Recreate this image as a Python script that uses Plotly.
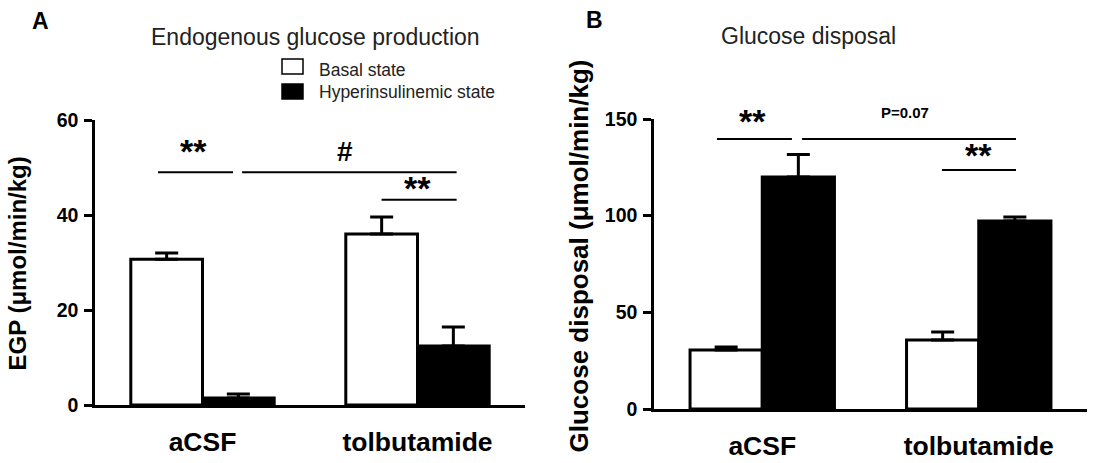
import plotly.graph_objects as go

# ---------------- data ----------------
categories = ["aCSF", "tolbutamide"]
series_names = ["Basal state", "Hyperinsulinemic state"]

egp_basal = [30.7, 36.0]
egp_basal_err = [1.3, 3.6]
egp_hyper = [1.5, 12.4]
egp_hyper_err = [0.8, 4.0]

gd_basal = [30.5, 35.7]
gd_basal_err = [1.6, 4.1]
gd_hyper = [120.0, 97.2]
gd_hyper_err = [11.7, 2.1]

egp_ticks = [0, 20, 40, 60]
gd_ticks = [0, 50, 100, 150]
egp_range = [0, 60]
gd_range = [0, 150]

# significance brackets: (x0, x1, y) in category units / data units
egp_brackets = [(-0.207, 0.142, 49.0), (0.184, 1.182, 49.0), (0.833, 1.182, 43.2)]
egp_labels = [(-0.042, 53.4, "**", 34), (0.665, 53.4, "#", 28), (1.0, 45.7, "**", 34)]
gd_brackets = [(-0.209, 0.137, 139.7), (0.184, 1.172, 139.7), (0.830, 1.172, 123.6)]
gd_labels = [(-0.047, 149.1, "**", 34), (0.659, 153.3, "P=0.07", 15), (1.001, 131.4, "**", 34)]

FONT = "Arial, Liberation Sans, sans-serif"
W, H = 1098, 463

fig = go.Figure()

def add_bars(vals, errs, name, fill, xa, ya):
    fig.add_trace(go.Bar(
        x=categories, y=vals, name=name, xaxis=xa, yaxis=ya,
        marker=dict(color=fill, line=dict(color="black", width=3)),
        error_y=dict(type="data", array=errs, arrayminus=[0] * len(errs), symmetric=False,
                     color="black", thickness=3, width=11.5),
        showlegend=False, offsetgroup=name,
    ))

add_bars(egp_basal, egp_basal_err, series_names[0], "white", "x", "y")
add_bars(egp_hyper, egp_hyper_err, series_names[1], "black", "x", "y")
add_bars(gd_basal, gd_basal_err, series_names[0], "white", "x2", "y2")
add_bars(gd_hyper, gd_hyper_err, series_names[1], "black", "x2", "y2")

shapes = []
annotations = []

def add_sig(brackets, labels, xa, ya, yrange):
    for (x0, x1, y) in brackets:
        shapes.append(dict(type="line", xref=xa, yref=ya, x0=x0, x1=x1, y0=y, y1=y,
                           line=dict(color="black", width=2)))
    for (x, y, t, s) in labels:
        # axis-domain reference so labels above the axis range stay visible
        yd = (y - yrange[0]) / (yrange[1] - yrange[0])
        annotations.append(dict(xref=xa, yref=ya + " domain", x=x, y=yd, text=f"<b>{t}</b>",
                                showarrow=False, xanchor="center", yanchor="middle",
                                font=dict(size=s, color="black", family=FONT)))

add_sig(egp_brackets, egp_labels, "x", "y", egp_range)
add_sig(gd_brackets, gd_labels, "x2", "y2", gd_range)

def px_x(px):
    return px / W

def px_y(py):
    return 1 - py / H

for (px, py, t, s, bold, ang) in [
    (40, 21.5, "A", 23, True, 0),
    (594.5, 20, "B", 23, True, 0),
    (315, 37, "Endogenous glucose production", 23, False, 0),
    (808.5, 36, "Glucose disposal", 23, False, 0),
    (16.5, 264, "EGP (μmol/min/kg)", 24, True, -90),
    (578, 256.5, "Glucose disposal (μmol/min/kg)", 26, True, -90),
]:
    annotations.append(dict(xref="paper", yref="paper", x=px_x(px), y=px_y(py),
                            text=f"<b>{t}</b>" if bold else t,
                            showarrow=False, textangle=ang, xanchor="center", yanchor="middle",
                            font=dict(size=s, color="black" if bold else "#222", family=FONT)))

# legend (drawn as keys + labels)
legend_fill = ["white", "black"]
legend_box_y = [(59, 74), (84, 99)]
legend_text_y = [70, 91.5]
for name, fill, (y0, y1), ty in zip(series_names, legend_fill, legend_box_y, legend_text_y):
    shapes.append(dict(type="rect", xref="paper", yref="paper",
                       x0=px_x(282), x1=px_x(303), y0=px_y(y1), y1=px_y(y0),
                       fillcolor=fill, line=dict(color="black", width=1.5)))
    annotations.append(dict(xref="paper", yref="paper", x=px_x(317), y=px_y(ty), text=name,
                            showarrow=False, xanchor="left", yanchor="middle",
                            font=dict(size=17.5, color="#222", family=FONT)))

xaxis_common = dict(type="category", range=[-0.5, 1.5], showline=True, linecolor="black", linewidth=2.5,
                    ticks="", showgrid=False, zeroline=False, ticklabelstandoff=11, automargin=False,
                    tickfont=dict(size=26.5, color="black", family=FONT, weight="bold"))
yaxis_common = dict(showline=True, linecolor="black", linewidth=2.5, ticks="outside", ticklen=8,
                    tickwidth=2.5, tickcolor="black", showgrid=False, zeroline=False, automargin=False,
                    tickfont=dict(size=19.5, color="black", family=FONT, weight="bold"), ticklabelstandoff=2)

fig.update_layout(
    width=W, height=H, margin=dict(l=0, r=0, t=0, b=0, autoexpand=False),
    paper_bgcolor="white", plot_bgcolor="white",
    barmode="group", bargap=0.333, bargroupgap=0,
    font=dict(family=FONT, color="black"),
    showlegend=False,
    xaxis=dict(domain=[95 / W, 525 / W], anchor="y", **xaxis_common),
    yaxis=dict(domain=[1 - 405 / H, 1 - 120 / H], range=egp_range, anchor="x", tickvals=egp_ticks, **yaxis_common),
    xaxis2=dict(domain=[654 / W, 1087 / W], anchor="y2", **xaxis_common),
    yaxis2=dict(domain=[1 - 409 / H, 1 - 119 / H], range=gd_range, anchor="x2", tickvals=gd_ticks, **yaxis_common),
    shapes=shapes, annotations=annotations,
)

fig.write_html("out.html")
